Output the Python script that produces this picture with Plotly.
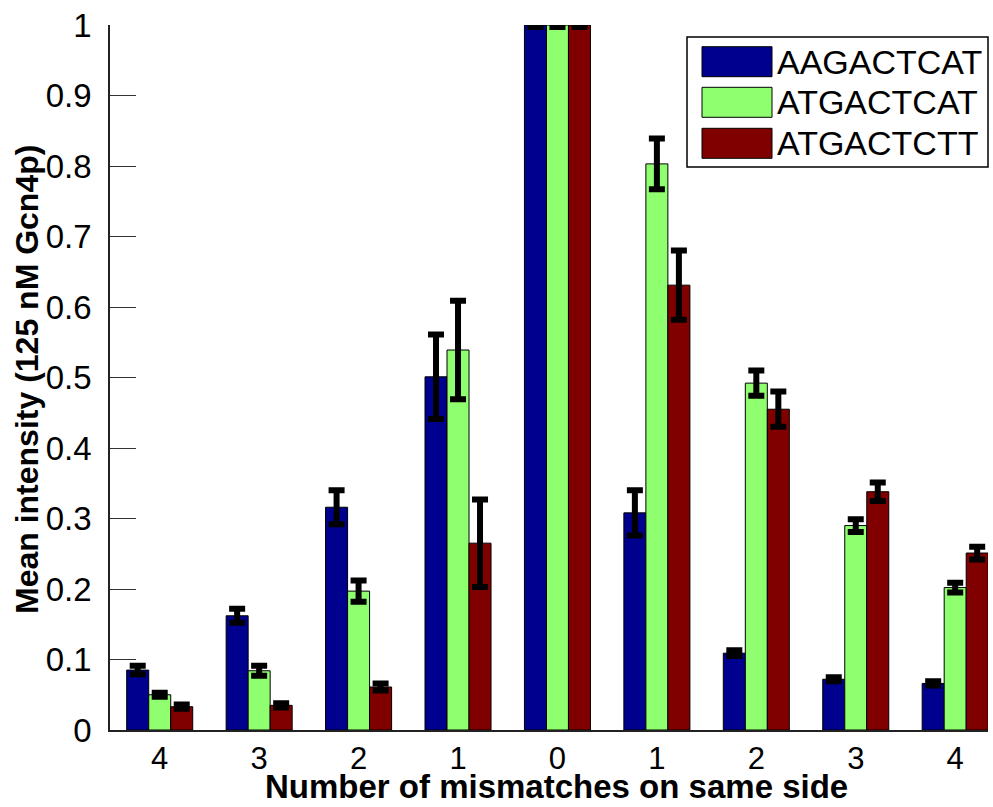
import plotly.graph_objects as go

# ---------------- data ----------------
tick_labels = ["4", "3", "2", "1", "0", "1", "2", "3", "4"]
positions = [1, 2, 3, 4, 5, 6, 7, 8, 9]
series_names = ["AAGACTCAT", "ATGACTCAT", "ATGACTCTT"]

aagactcat = [0.085, 0.162, 0.316, 0.501, 1.0, 0.308, 0.109, 0.072, 0.066]
aagactcat_err = [0.006, 0.010, 0.024, 0.060, 0.003, 0.032, 0.004, 0.003, 0.003]

atgactcat = [0.050, 0.084, 0.197, 0.539, 1.0, 0.803, 0.492, 0.290, 0.202]
atgactcat_err = [0.003, 0.007, 0.015, 0.070, 0.003, 0.036, 0.018, 0.009, 0.007]

atgactctt = [0.033, 0.035, 0.061, 0.265, 1.0, 0.631, 0.455, 0.338, 0.251]
atgactctt_err = [0.003, 0.003, 0.005, 0.062, 0.003, 0.049, 0.025, 0.013, 0.009]

y_ticks = [0, 0.1, 0.2, 0.3, 0.4, 0.5, 0.6, 0.7, 0.8, 0.9, 1]
y_tick_labels = ["0", "0.1", "0.2", "0.3", "0.4", "0.5", "0.6", "0.7", "0.8", "0.9", "1"]

x_title = "Number of mismatches on same side"
y_title = "Mean intensity (125 nM Gcn4p)"

colors = ["#00008F", "#8FFF70", "#800000"]
values = [aagactcat, atgactcat, atgactctt]
errors = [aagactcat_err, atgactcat_err, atgactctt_err]

FONT = "Liberation Sans, Arial, Helvetica, sans-serif"

fig = go.Figure()
for name, vals, errs, col in zip(series_names, values, errors, colors):
    fig.add_trace(go.Bar(
        x=positions, y=vals, name=name,
        marker=dict(color=col, line=dict(color="black", width=1)),
        error_y=dict(type="data", array=errs, visible=True,
                     color="black", thickness=6, width=8),
        showlegend=False,
    ))

W, H = 993, 807
ML, MR, MT, MB = 110, 5, 25, 77
plot_w = W - ML - MR
plot_h = H - MT - MB


def px_x(x):
    return (x - ML) / plot_w


def px_y(y):
    return (H - MB - y) / plot_h


shapes = []
annotations = []
# legend box
shapes.append(dict(type="rect", xref="paper", yref="paper",
                   x0=px_x(687), x1=px_x(988), y0=px_y(167), y1=px_y(37),
                   line=dict(color="black", width=1.5), fillcolor="white", layer="above"))
row_tops = [46.7, 87.3, 128.3]
for i, (name, col) in enumerate(zip(series_names, colors)):
    top = row_tops[i]
    shapes.append(dict(type="rect", xref="paper", yref="paper",
                       x0=px_x(702), x1=px_x(772), y0=px_y(top + 30), y1=px_y(top),
                       line=dict(color="black", width=1), fillcolor=col, layer="above"))
    annotations.append(dict(xref="paper", yref="paper", x=px_x(775), y=px_y(top + 15),
                            text=name, showarrow=False, xanchor="left", yanchor="middle",
                            font=dict(family=FONT, size=34, color="black")))

# axis titles
annotations.append(dict(xref="paper", yref="paper", x=px_x(556), y=px_y(806),
                        text="<b>" + x_title + "</b>", showarrow=False,
                        xanchor="center", yanchor="bottom", borderpad=0,
                        font=dict(family=FONT, size=33, color="black")))
annotations.append(dict(xref="paper", yref="paper", x=px_x(27), y=px_y(380),
                        text="<b>" + y_title + "</b>", showarrow=False, textangle=-90,
                        xanchor="center", yanchor="middle",
                        font=dict(family=FONT, size=32, color="black")))

fig.update_layout(
    width=W, height=H,
    margin=dict(l=ML, r=MR, t=MT, b=MB, pad=0),
    paper_bgcolor="white", plot_bgcolor="white",
    barmode="group", bargap=0.336, bargroupgap=0,
    font=dict(family=FONT, color="black"),
    shapes=shapes, annotations=annotations,
    xaxis=dict(
        range=[0.5, 9.33], tickmode="array", tickvals=positions, ticktext=tick_labels,
        ticks="", showgrid=False, zeroline=False, automargin=False,
        showline=True, linecolor="#222", linewidth=1.5,
        tickfont=dict(family=FONT, size=31, color="black"),
        layer="below traces",
    ),
    yaxis=dict(
        range=[0, 1], tickmode="array", tickvals=y_ticks, ticktext=y_tick_labels,
        ticks="inside", ticklen=26, tickcolor="#333", tickwidth=1,
        ticklabelstandoff=10, automargin=False,
        showgrid=False, zeroline=False,
        showline=True, linecolor="#222", linewidth=1.5,
        tickfont=dict(family=FONT, size=33, color="black"),
        layer="below traces",
    ),
)

fig.write_html("out.html", config={"displayModeBar": False},
               post_script="document.body.style.margin='0';document.body.style.padding='0';")
